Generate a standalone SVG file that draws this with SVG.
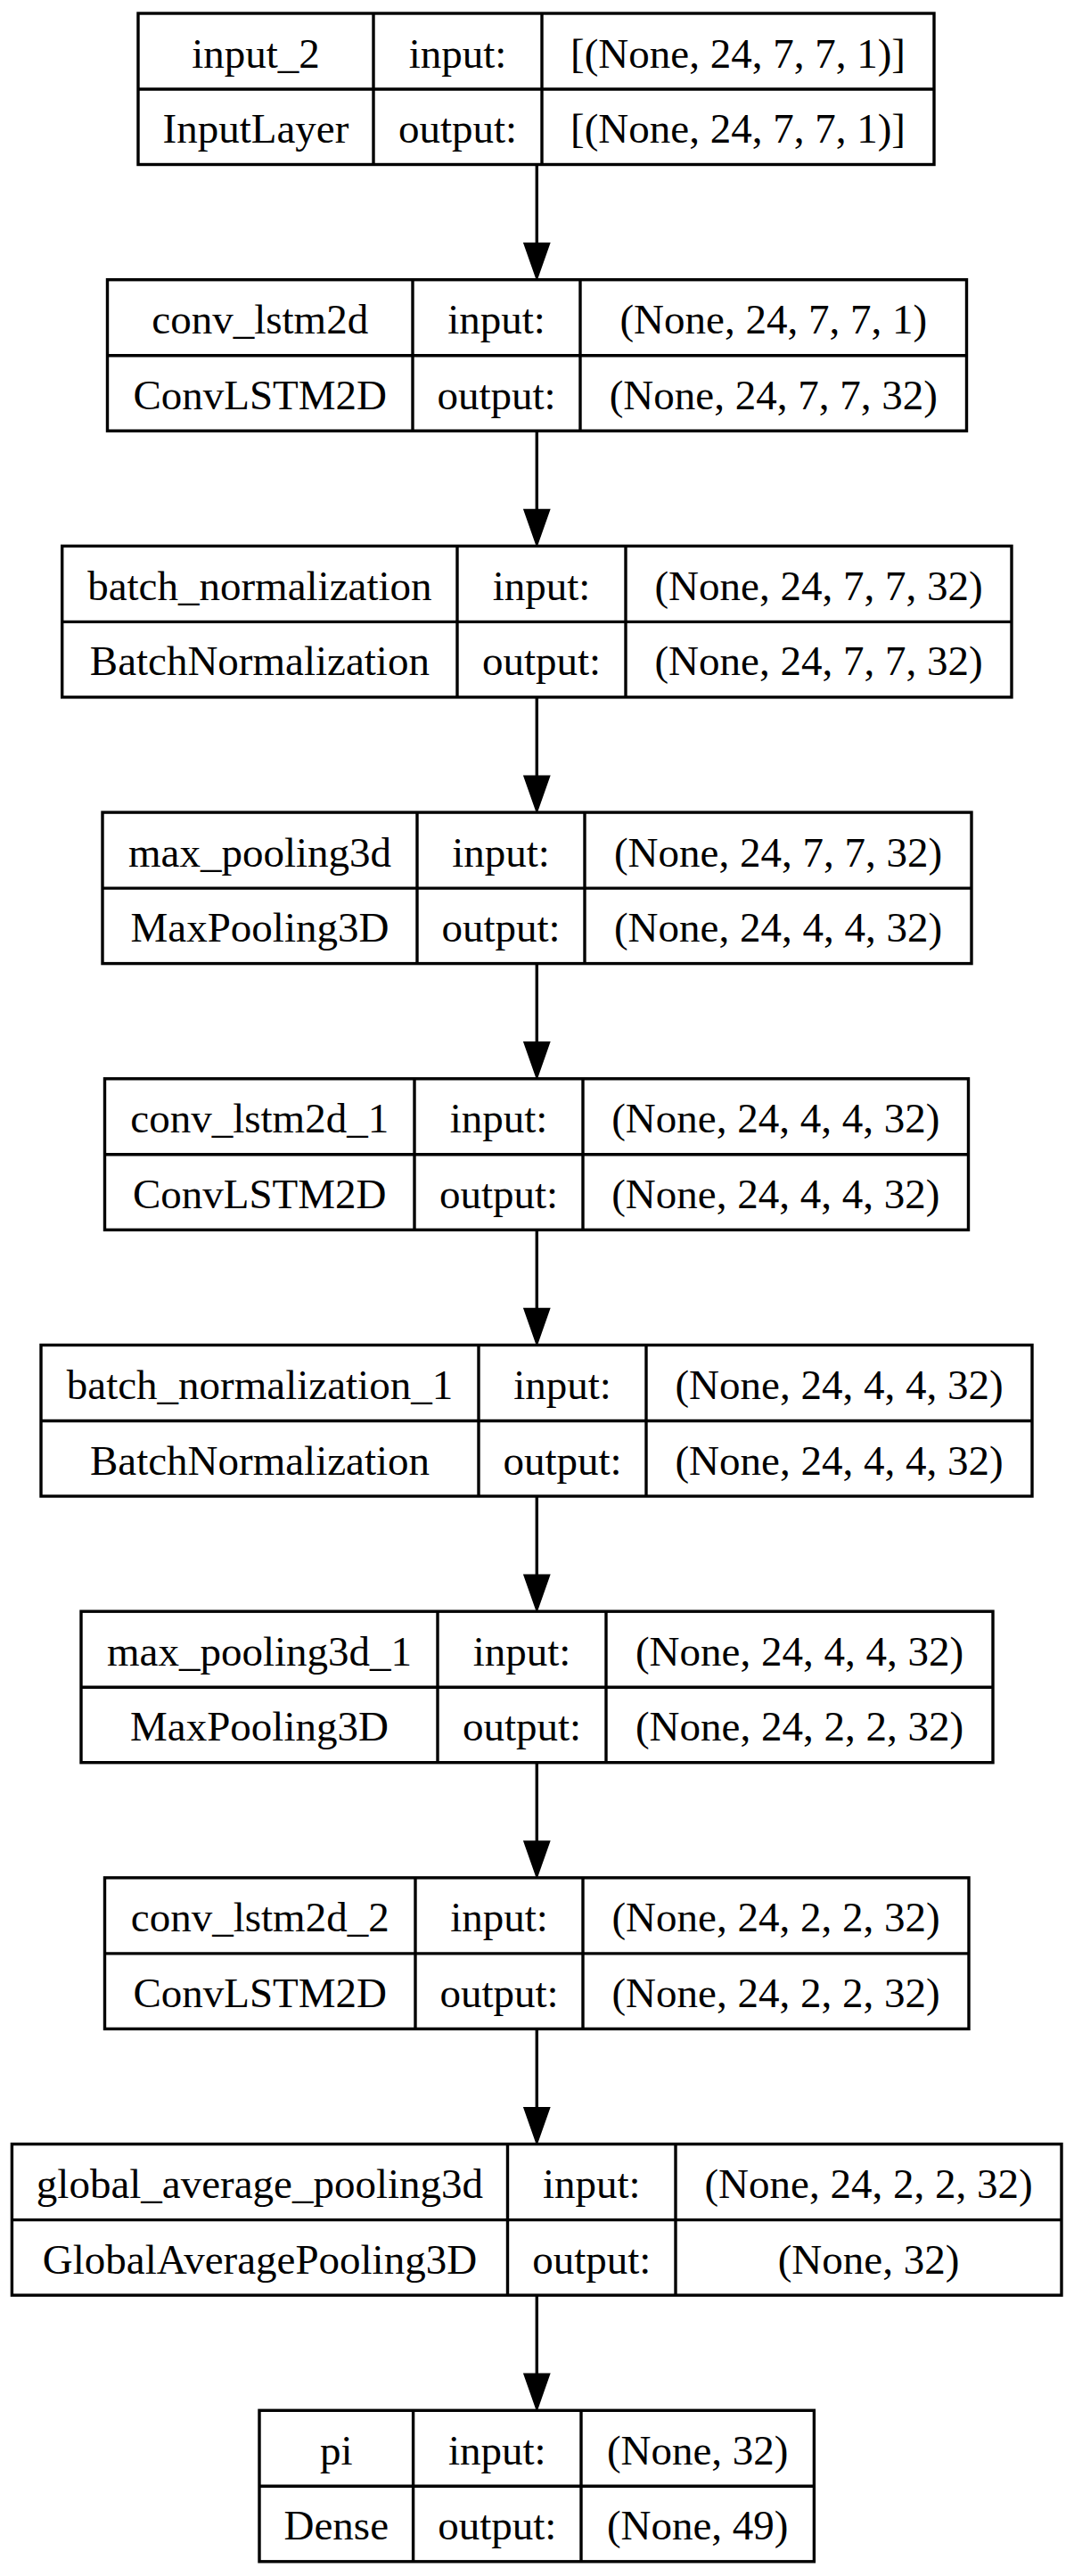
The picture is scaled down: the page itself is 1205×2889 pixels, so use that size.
<svg xmlns="http://www.w3.org/2000/svg" width="1205" height="2889" viewBox="0 0 1205 2889">
<style>
.box{fill:#fff;stroke:#000;stroke-width:3.4}
.ln{stroke:#000;stroke-width:3.4;fill:none}
.ah{fill:#000;stroke:#000;stroke-width:3.4}
text{font-family:"Liberation Serif","Times New Roman",serif;font-size:47px;fill:#000;text-anchor:middle}
</style>
<rect x="0" y="0" width="1205" height="2889" fill="#fff"/>
<g id="connectors">
<line class="ln" x1="602.3" y1="184.5" x2="602.3" y2="274"/><polygon class="ah" points="602.3,310.7 589.3,273.7 615.3,273.7"/>
<line class="ln" x1="602.3" y1="483.2" x2="602.3" y2="573"/><polygon class="ah" points="602.3,609.4 589.3,572.4 615.3,572.4"/>
<line class="ln" x1="602.3" y1="781.9" x2="602.3" y2="871"/><polygon class="ah" points="602.3,908.1 589.3,871.1 615.3,871.1"/>
<line class="ln" x1="602.3" y1="1080.6" x2="602.3" y2="1170"/><polygon class="ah" points="602.3,1206.8 589.3,1169.8 615.3,1169.8"/>
<line class="ln" x1="602.3" y1="1379.3" x2="602.3" y2="1469"/><polygon class="ah" points="602.3,1505.5 589.3,1468.5 615.3,1468.5"/>
<line class="ln" x1="602.3" y1="1678" x2="602.3" y2="1767"/><polygon class="ah" points="602.3,1804.2 589.3,1767.2 615.3,1767.2"/>
<line class="ln" x1="602.3" y1="1976.7" x2="602.3" y2="2066"/><polygon class="ah" points="602.3,2102.9 589.3,2065.9 615.3,2065.9"/>
<line class="ln" x1="602.3" y1="2275.4" x2="602.3" y2="2365"/><polygon class="ah" points="602.3,2401.6 589.3,2364.6 615.3,2364.6"/>
<line class="ln" x1="602.3" y1="2574.1" x2="602.3" y2="2663"/><polygon class="ah" points="602.3,2700.3 589.3,2663.3 615.3,2663.3"/>
</g>
<g id="input_2">
<rect class="box" x="155" y="15" width="893" height="169.5"/>
<line class="ln" x1="155" y1="100" x2="1048" y2="100"/>
<line class="ln" x1="419" y1="15" x2="419" y2="184.5"/>
<line class="ln" x1="608" y1="15" x2="608" y2="184.5"/>
<text x="287" y="75.5">input_2</text><text x="287" y="160">InputLayer</text>
<text x="513.5" y="75.5">input:</text><text x="513.5" y="160">output:</text>
<text x="828" y="75.5">[(None, 24, 7, 7, 1)]</text><text x="828" y="160">[(None, 24, 7, 7, 1)]</text>
</g>
<g id="conv_lstm2d">
<rect class="box" x="120.5" y="313.7" width="964" height="169.5"/>
<line class="ln" x1="120.5" y1="398.7" x2="1084.5" y2="398.7"/>
<line class="ln" x1="463" y1="313.7" x2="463" y2="483.2"/>
<line class="ln" x1="651" y1="313.7" x2="651" y2="483.2"/>
<text x="291.75" y="374.2">conv_lstm2d</text><text x="291.75" y="458.7">ConvLSTM2D</text>
<text x="557" y="374.2">input:</text><text x="557" y="458.7">output:</text>
<text x="867.75" y="374.2">(None, 24, 7, 7, 1)</text><text x="867.75" y="458.7">(None, 24, 7, 7, 32)</text>
</g>
<g id="batch_normalization">
<rect class="box" x="69.7" y="612.4" width="1065.3" height="169.5"/>
<line class="ln" x1="69.7" y1="697.4" x2="1135" y2="697.4"/>
<line class="ln" x1="513" y1="612.4" x2="513" y2="781.9"/>
<line class="ln" x1="702" y1="612.4" x2="702" y2="781.9"/>
<text x="291.35" y="672.9">batch_normalization</text><text x="291.35" y="757.4">BatchNormalization</text>
<text x="607.5" y="672.9">input:</text><text x="607.5" y="757.4">output:</text>
<text x="918.5" y="672.9">(None, 24, 7, 7, 32)</text><text x="918.5" y="757.4">(None, 24, 7, 7, 32)</text>
</g>
<g id="max_pooling3d">
<rect class="box" x="115" y="911.1" width="975" height="169.5"/>
<line class="ln" x1="115" y1="996.1" x2="1090" y2="996.1"/>
<line class="ln" x1="468" y1="911.1" x2="468" y2="1080.6"/>
<line class="ln" x1="656" y1="911.1" x2="656" y2="1080.6"/>
<text x="291.5" y="971.6">max_pooling3d</text><text x="291.5" y="1056.1">MaxPooling3D</text>
<text x="562" y="971.6">input:</text><text x="562" y="1056.1">output:</text>
<text x="873" y="971.6">(None, 24, 7, 7, 32)</text><text x="873" y="1056.1">(None, 24, 4, 4, 32)</text>
</g>
<g id="conv_lstm2d_1">
<rect class="box" x="117.5" y="1209.8" width="969" height="169.5"/>
<line class="ln" x1="117.5" y1="1294.8" x2="1086.5" y2="1294.8"/>
<line class="ln" x1="465" y1="1209.8" x2="465" y2="1379.3"/>
<line class="ln" x1="654" y1="1209.8" x2="654" y2="1379.3"/>
<text x="291.25" y="1270.3">conv_lstm2d_1</text><text x="291.25" y="1354.8">ConvLSTM2D</text>
<text x="559.5" y="1270.3">input:</text><text x="559.5" y="1354.8">output:</text>
<text x="870.25" y="1270.3">(None, 24, 4, 4, 32)</text><text x="870.25" y="1354.8">(None, 24, 4, 4, 32)</text>
</g>
<g id="batch_normalization_1">
<rect class="box" x="46" y="1508.5" width="1112" height="169.5"/>
<line class="ln" x1="46" y1="1593.5" x2="1158" y2="1593.5"/>
<line class="ln" x1="537" y1="1508.5" x2="537" y2="1678"/>
<line class="ln" x1="725" y1="1508.5" x2="725" y2="1678"/>
<text x="291.5" y="1569">batch_normalization_1</text><text x="291.5" y="1653.5">BatchNormalization</text>
<text x="631" y="1569">input:</text><text x="631" y="1653.5">output:</text>
<text x="941.5" y="1569">(None, 24, 4, 4, 32)</text><text x="941.5" y="1653.5">(None, 24, 4, 4, 32)</text>
</g>
<g id="max_pooling3d_1">
<rect class="box" x="91" y="1807.2" width="1023" height="169.5"/>
<line class="ln" x1="91" y1="1892.2" x2="1114" y2="1892.2"/>
<line class="ln" x1="491" y1="1807.2" x2="491" y2="1976.7"/>
<line class="ln" x1="680" y1="1807.2" x2="680" y2="1976.7"/>
<text x="291" y="1867.7">max_pooling3d_1</text><text x="291" y="1952.2">MaxPooling3D</text>
<text x="585.5" y="1867.7">input:</text><text x="585.5" y="1952.2">output:</text>
<text x="897" y="1867.7">(None, 24, 4, 4, 32)</text><text x="897" y="1952.2">(None, 24, 2, 2, 32)</text>
</g>
<g id="conv_lstm2d_2">
<rect class="box" x="117.5" y="2105.9" width="969.5" height="169.5"/>
<line class="ln" x1="117.5" y1="2190.9" x2="1087" y2="2190.9"/>
<line class="ln" x1="466" y1="2105.9" x2="466" y2="2275.4"/>
<line class="ln" x1="654" y1="2105.9" x2="654" y2="2275.4"/>
<text x="291.75" y="2166.4">conv_lstm2d_2</text><text x="291.75" y="2250.9">ConvLSTM2D</text>
<text x="560" y="2166.4">input:</text><text x="560" y="2250.9">output:</text>
<text x="870.5" y="2166.4">(None, 24, 2, 2, 32)</text><text x="870.5" y="2250.9">(None, 24, 2, 2, 32)</text>
</g>
<g id="global_average_pooling3d">
<rect class="box" x="13.4" y="2404.6" width="1177.6" height="169.5"/>
<line class="ln" x1="13.4" y1="2489.6" x2="1191" y2="2489.6"/>
<line class="ln" x1="569.5" y1="2404.6" x2="569.5" y2="2574.1"/>
<line class="ln" x1="758" y1="2404.6" x2="758" y2="2574.1"/>
<text x="291.45" y="2465.1">global_average_pooling3d</text><text x="291.45" y="2549.6">GlobalAveragePooling3D</text>
<text x="663.75" y="2465.1">input:</text><text x="663.75" y="2549.6">output:</text>
<text x="974.5" y="2465.1">(None, 24, 2, 2, 32)</text><text x="974.5" y="2549.6">(None, 32)</text>
</g>
<g id="pi">
<rect class="box" x="291" y="2703.3" width="622.4" height="169.5"/>
<line class="ln" x1="291" y1="2788.3" x2="913.4" y2="2788.3"/>
<line class="ln" x1="463.6" y1="2703.3" x2="463.6" y2="2872.8"/>
<line class="ln" x1="652" y1="2703.3" x2="652" y2="2872.8"/>
<text x="377.3" y="2763.8">pi</text><text x="377.3" y="2848.3">Dense</text>
<text x="557.8" y="2763.8">input:</text><text x="557.8" y="2848.3">output:</text>
<text x="782.7" y="2763.8">(None, 32)</text><text x="782.7" y="2848.3">(None, 49)</text>
</g>
</svg>
